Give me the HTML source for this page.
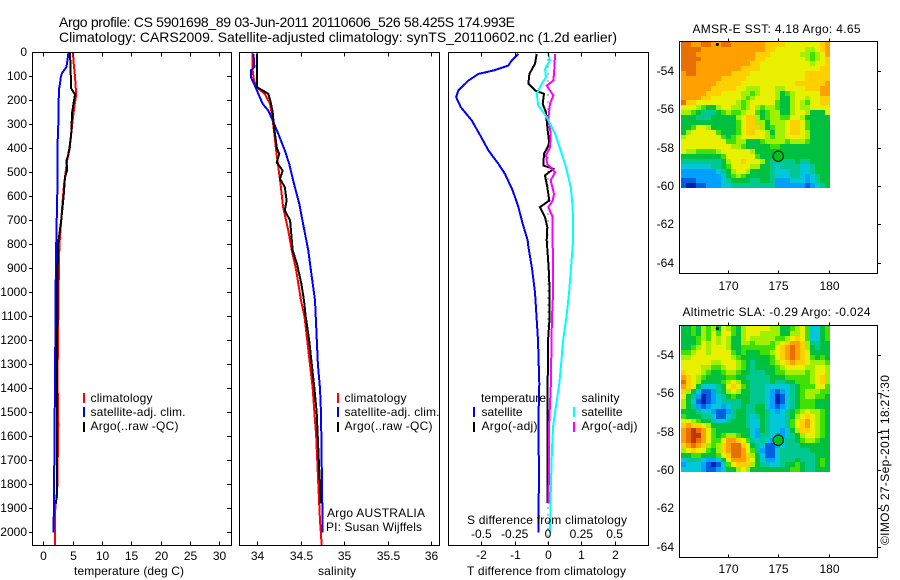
<!DOCTYPE html>
<html lang="en">
<head>
<meta charset="utf-8">
<title>Argo profile 5901698_89</title>
<style>
html,body{margin:0;padding:0;background:#fff;width:900px;height:580px;overflow:hidden}
svg{display:block;position:absolute;left:0;top:0}
text{font-family:"Liberation Sans",Arial,sans-serif;font-size:12px;fill:#000}
.title{font-size:14px}
.frame{fill:none;stroke:#000;stroke-width:1;shape-rendering:crispEdges}
.tick{stroke:#000;stroke-width:1;shape-rendering:crispEdges}
.series{fill:none;stroke-width:2;shape-rendering:crispEdges;stroke-linejoin:miter}
</style>
</head>
<body>
<svg id="chart" xmlns="http://www.w3.org/2000/svg" width="900" height="580" viewBox="0 0 900 580">
  <defs>
    <clipPath id="clip-temp"><rect x="33" y="53" width="198" height="492"/></clipPath>
    <clipPath id="clip-sal"><rect x="240" y="53" width="199" height="492"/></clipPath>
    <clipPath id="clip-diff"><rect x="449" y="53" width="199" height="492"/></clipPath>
  </defs>

  <text class="title" x="59" y="27" textLength="456" lengthAdjust="spacing">Argo profile: CS 5901698_89 03-Jun-2011 20110606_526 58.425S 174.993E</text>
  <text class="title" x="59" y="42" textLength="558" lengthAdjust="spacing">Climatology: CARS2009. Satellite-adjusted climatology: synTS_20110602.nc (1.2d earlier)</text>

  <g id="heat-sst"></g>
  <g id="heat-sla"></g>

  <g id="series-temp" clip-path="url(#clip-temp)"></g>
  <g id="series-sal" clip-path="url(#clip-sal)"></g>
  <g id="series-diff" clip-path="url(#clip-diff)"></g>

  <rect class="frame" x="32.5" y="52.5" width="199" height="493"/>
  <rect class="frame" x="239.5" y="52.5" width="200" height="493"/>
  <rect class="frame" x="448.5" y="52.5" width="200" height="493"/>
  <rect class="frame" x="679.5" y="41.5" width="198" height="232"/>
  <rect class="frame" x="679.5" y="325.5" width="198" height="232"/>

  <g id="axes"></g>

  <text x="74" y="575" textLength="110" lengthAdjust="spacing">temperature (deg C)</text>
  <text x="318" y="575" textLength="38" lengthAdjust="spacing">salinity</text>
  <text x="467" y="575" textLength="159" lengthAdjust="spacing">T difference from climatology</text>
  <text x="467" y="524" textLength="160" lengthAdjust="spacing">S difference from climatology</text>

  <g>
    <rect x="83" y="393" width="2" height="10" fill="#f00"/>
    <rect x="83" y="407" width="2" height="10" fill="#00f"/>
    <rect x="83" y="422" width="2" height="10" fill="#000"/>
    <text x="90.5" y="402" textLength="62" lengthAdjust="spacing">climatology</text>
    <text x="90.5" y="416" textLength="95" lengthAdjust="spacing">satellite-adj. clim.</text>
    <text x="90.5" y="430" textLength="88" lengthAdjust="spacing">Argo(..raw -QC)</text>
  </g>
  <g>
    <rect x="337" y="393" width="2" height="10" fill="#f00"/>
    <rect x="337" y="407" width="2" height="10" fill="#00f"/>
    <rect x="337" y="422" width="2" height="10" fill="#000"/>
    <text x="344.5" y="402" textLength="62" lengthAdjust="spacing">climatology</text>
    <text x="344.5" y="416" textLength="95" lengthAdjust="spacing">satellite-adj. clim.</text>
    <text x="344.5" y="430" textLength="88" lengthAdjust="spacing">Argo(..raw -QC)</text>
  </g>
  <text x="327" y="517" textLength="98" lengthAdjust="spacing">Argo AUSTRALIA</text>
  <text x="326" y="531" textLength="96" lengthAdjust="spacing">PI: Susan Wijffels</text>

  <g>
    <text x="481" y="402" textLength="65" lengthAdjust="spacing">temperature</text>
    <rect x="473" y="407" width="2" height="10" fill="#00f"/>
    <rect x="473" y="422" width="2" height="10" fill="#000"/>
    <text x="481.5" y="416" textLength="41" lengthAdjust="spacing">satellite</text>
    <text x="481.5" y="430" textLength="56" lengthAdjust="spacing">Argo(-adj)</text>
    <text x="581.5" y="402" textLength="38" lengthAdjust="spacing">salinity</text>
    <rect x="573" y="407" width="2" height="10" fill="#0ff"/>
    <rect x="573" y="422" width="2" height="10" fill="#f0f"/>
    <text x="581.5" y="416" textLength="41" lengthAdjust="spacing">satellite</text>
    <text x="581.5" y="430" textLength="56" lengthAdjust="spacing">Argo(-adj)</text>
  </g>

  <text x="692.5" y="33" textLength="168" lengthAdjust="spacing">AMSR-E SST: 4.18 Argo: 4.65</text>
  <text x="682.5" y="316" textLength="188" lengthAdjust="spacing">Altimetric SLA: -0.29 Argo: -0.024</text>

  <text transform="translate(889,545) rotate(-90)" textLength="170" lengthAdjust="spacing">©IMOS 27-Sep-2011 18:27:30</text>
</svg>

<script>
// ---- Profile depth grids and values (depth in m) ----
const tempClimDepth = [0,50,100,175,225,280,340,400,450,500,550,600,700,800,900,1000,1100,1200,1300,1400,1500,1550,1850,1880,2054];
const tempClimValue = [5.05,5.2,5.4,5.6,5.3,5.0,4.75,4.5,4.05,3.8,3.55,3.35,3.05,2.75,2.65,2.6,2.55,2.5,2.45,2.45,2.5,2.55,2.35,2.05,2.0];
const tempSatDepth = [0,60,85,100,130,155,300,400,570,600,800,1000,1400,1500,1750,2000];
const tempSatValue = [4.3,3.95,3.2,3.0,2.85,2.65,2.55,2.4,2.4,2.37,2.2,2.1,2.0,1.95,1.85,1.75];
const tempArgoDepth = [0,150,175,250,340,400,430,450,490,520,600,700,800,1000,1400,1700,1830,1880];
const tempArgoValue = [4.55,4.75,5.4,4.9,4.75,4.45,4.2,3.95,4.05,3.7,3.45,3.05,2.5,2.4,2.33,2.33,2.33,2.15];

const salClimDepth = [0,75,117,151,172,214,269,339,408,464,547,644,742,825,908,1033,1100,1400,1500,1600,1800,1950,2054];
const salClimValue = [33.95,33.95,33.965,34.015,34.09,34.15,34.176,34.2,34.22,34.24,34.27,34.3,34.36,34.4,34.45,34.506,34.546,34.64,34.66,34.68,34.705,34.724,34.744];
const salSatDepth = [6,61,75,103,130,172,214,242,283,339,408,464,547,631,714,825,908,1033,1300,1400,1500,1800,2000];
const salSatValue = [33.96,33.97,33.93,33.93,33.966,34.015,34.065,34.13,34.18,34.245,34.32,34.37,34.425,34.486,34.53,34.59,34.62,34.667,34.7,34.724,34.736,34.747,34.755];
const salArgoDepth = [5,144,172,207,249,311,401,422,457,492,526,561,617,658,700,825,881,964,1033,1100,1200,1300,1400,1500,1700,1800,1880];
const salArgoValue = [34.0,34.0,34.13,34.157,34.18,34.195,34.23,34.256,34.226,34.295,34.264,34.32,34.34,34.32,34.38,34.41,34.46,34.51,34.54,34.56,34.6,34.63,34.66,34.686,34.71,34.724,34.73];

const diffTSatDepth = [6,33,54,75,89,117,158,186,228,283,339,408,464,506,575,644,714,783,800,900,1000,1100,1200,1380,1550,1750,2000];
const diffTSatValue = [-0.89,-1.09,-1.19,-1.64,-2.09,-2.39,-2.69,-2.76,-2.62,-2.29,-2.06,-1.79,-1.49,-1.29,-1.06,-0.89,-0.76,-0.61,-0.6,-0.48,-0.39,-0.345,-0.3,-0.26,-0.29,-0.27,-0.29];
const diffTArgoDepth = [6,47,89,130,158,172,214,249,311,381,422,471,485,512,561,617,644,686,728,783,900,1000,1100,1200,1380,1850,1878];
const diffTArgoValue = [-0.34,-0.39,-0.56,-0.59,-0.39,-0.12,-0.16,-0.06,-0.02,0.04,-0.12,-0.14,0.16,-0.09,-0.02,0.04,-0.24,-0.09,-0.02,-0.04,0.02,0.05,0.05,0.0,-0.01,-0.01,-0.01];
const diffSArgoDepth = [6,89,117,138,179,214,276,339,394,429,464,499,533,589,617,644,686,783,1000,1100,1200,1380,1550,1700,1880];
const diffSArgoValue = [0.053,0.045,0.04,-0.01,0.04,0.015,0.002,0.02,0.015,-0.015,-0.005,0.053,0.02,0.045,0.035,0.002,0.035,0.035,0.038,0.03,0.026,0.022,0.008,0.008,0.004];
const diffSSatDepth = [6,33,68,103,130,172,221,269,339,408,478,561,644,783,1000,1100,1200,1300,1380,1550,1650,1800,2000];
const diffSSatValue = [0.002,0.015,-0.022,-0.015,-0.047,-0.085,-0.073,-0.01,0.053,0.095,0.135,0.17,0.185,0.188,0.158,0.139,0.113,0.098,0.085,0.04,0.03,0.022,0.015];

// ---- Tick labels ----
const depthTicks = [0,100,200,300,400,500,600,700,800,900,1000,1100,1200,1300,1400,1500,1600,1700,1800,1900,2000];
const tempTicks = [0,5,10,15,20,25,30];
const salTicks = [34,34.5,35,35.5,36];
const diffTTicks = [-2,-1,0,1,2];
const diffSTicks = [-0.5,-0.25,0,0.25,0.5];
const latTicks = [-54,-56,-58,-60,-62,-64];
const lonTicks = [170,175,180];

// ---- Argo position ----
const argoLon = 174.993;
const argoLat = -58.425;

// ---- Map grids: colour level per cell, north to south, west to east ----
const sstGrid = [
[11,11,10,10,11,11,10,10,11,11,10,10,10,10,10,10,10,9,9,9,9,8,8,8,8,8,8,8,9,10],
[11,11,11,11,10,10,10,10,10,10,10,10,10,10,10,10,10,9,9,8,8,8,8,8,8,7,7,8,9,10],
[11,11,11,10,10,10,10,10,10,10,10,10,10,10,10,9,9,9,8,8,8,8,8,8,7,7,6,7,8,10],
[11,11,11,11,10,10,10,10,10,10,10,10,10,10,10,9,9,8,8,8,8,8,8,8,8,7,6,7,8,9],
[11,11,11,10,10,10,10,10,10,10,10,10,10,10,9,9,8,8,8,8,8,8,8,8,8,8,7,8,8,9],
[11,11,11,10,10,10,10,10,10,10,10,10,9,9,9,9,8,8,8,8,8,8,8,8,8,8,8,8,9,9],
[10,11,11,10,10,10,10,10,10,10,9,9,9,9,8,8,8,8,8,8,8,8,8,8,8,9,9,9,9,9],
[10,10,10,10,10,10,10,10,9,9,9,9,9,8,8,8,8,8,8,8,8,8,8,8,8,9,9,9,9,9],
[10,10,10,10,10,10,10,9,9,9,9,9,8,8,8,8,8,8,8,8,8,8,8,9,9,9,9,9,9,10],
[10,10,10,10,10,10,9,9,9,9,9,8,8,7,7,7,8,8,8,7,7,8,8,8,8,9,9,9,10,10],
[10,10,10,10,10,9,9,9,8,8,8,8,7,7,6,7,8,8,8,7,5,6,7,8,8,8,8,8,10,10],
[10,10,10,10,9,9,8,8,8,8,8,8,7,6,7,8,8,8,8,7,5,5,7,8,8,7,8,8,9,9],
[11,9,9,8,8,8,8,8,8,8,8,7,6,7,8,8,8,8,8,6,5,5,7,8,7,6,8,8,9,9],
[8,8,8,7,6,5,5,7,8,8,7,7,6,7,8,7,6,7,7,6,5,5,7,8,7,7,8,8,8,8],
[7,7,6,5,4,4,4,5,6,7,6,6,7,8,8,6,5,6,7,7,5,5,7,8,8,7,5,5,5,8],
[5,5,5,4,4,4,5,5,5,5,5,7,8,9,9,7,5,6,7,7,6,6,8,8,7,5,5,5,5,5],
[5,5,5,5,5,5,5,5,5,5,5,6,8,9,9,7,7,5,7,7,7,8,9,9,8,6,5,5,5,5],
[5,5,6,8,8,7,5,5,5,5,5,6,8,9,9,9,7,5,6,7,7,8,9,9,8,6,5,5,5,5],
[5,7,8,8,8,8,8,6,5,5,5,6,8,9,9,8,8,7,5,7,7,8,9,9,8,7,5,5,5,5],
[7,8,8,8,8,8,8,8,6,5,6,7,8,8,8,8,8,7,6,7,7,8,8,8,8,7,5,5,5,5],
[8,8,8,8,8,8,8,8,8,6,6,7,7,5,5,5,6,7,7,7,7,6,7,7,7,6,5,5,5,5],
[8,8,8,8,8,8,8,8,8,8,7,7,6,5,5,5,5,5,6,6,5,5,5,5,5,5,5,5,5,5],
[8,7,7,6,6,6,6,7,8,8,8,8,8,8,7,5,5,5,5,5,5,5,5,5,5,5,5,5,5,5],
[5,5,5,5,5,5,5,5,6,8,8,8,8,8,8,6,5,5,5,5,5,5,5,5,5,5,5,5,5,5],
[4,4,4,4,4,4,4,4,5,7,8,8,9,8,8,8,7,5,4,4,4,4,4,5,4,4,5,5,5,5],
[3,3,3,3,3,3,4,4,5,6,8,8,8,8,7,7,5,5,4,3,4,4,4,4,3,3,4,5,5,5],
[2,2,2,2,2,2,2,3,4,5,7,8,8,7,5,5,5,5,4,3,3,3,4,4,3,3,4,5,5,5],
[2,2,2,2,2,2,2,2,3,5,6,7,6,5,5,5,5,5,4,3,3,3,4,4,3,2,3,4,5,5],
[1,1,1,2,2,2,2,2,3,4,5,5,5,5,4,4,5,5,4,2,2,2,3,3,3,2,3,4,5,5],
[1,0,0,1,1,2,2,2,3,3,4,4,4,4,4,4,4,4,4,2,2,2,2,2,2,1,2,3,4,5]
];
const slaGrid = [
[5,5,6,5,7,6,7,5,8,7,6,5,7,8,8,8,8,8,7,7,5,5,6,7,8,6,3,3,5,6],
[5,5,6,5,7,6,8,6,8,8,6,5,7,8,8,8,7,7,7,7,5,5,7,7,8,6,3,3,5,6],
[5,5,5,6,7,6,8,7,8,7,5,5,7,8,7,7,7,7,7,6,6,7,8,9,8,6,3,3,5,6],
[5,5,5,6,8,7,8,7,8,7,5,5,7,7,6,7,7,7,6,7,8,9,10,10,9,7,4,4,5,5],
[5,5,6,7,8,7,8,8,8,7,5,5,6,6,6,6,6,6,6,8,9,10,11,10,9,7,5,4,5,5],
[6,6,7,8,8,7,8,8,8,8,6,5,6,5,5,5,6,6,7,8,9,10,11,10,9,8,5,5,5,5],
[7,7,8,8,8,8,8,8,8,8,7,6,5,5,5,5,5,5,6,8,9,10,11,10,9,8,6,5,6,5],
[8,8,8,8,8,8,7,7,8,8,8,7,6,5,4,5,5,5,6,7,8,9,10,9,9,8,7,7,7,6],
[8,8,8,8,7,7,6,6,7,8,8,7,6,5,4,5,5,5,5,6,7,8,8,8,8,7,7,8,8,7],
[9,8,8,8,7,6,5,5,6,7,7,6,5,5,4,4,4,5,5,6,6,7,7,7,7,6,7,8,8,7],
[10,9,8,7,6,5,5,5,5,6,6,5,5,4,4,4,4,4,5,5,5,6,6,6,6,6,7,8,9,7],
[11,9,8,7,5,5,5,5,6,7,8,7,5,5,4,4,4,4,5,4,4,5,5,6,6,6,7,8,9,7],
[10,9,8,5,3,3,3,4,5,8,9,8,6,5,4,4,4,3,3,3,3,3,4,5,6,6,6,8,8,6],
[9,7,5,3,1,1,2,4,5,7,8,7,5,5,4,4,4,3,2,1,2,3,4,5,6,7,7,7,6,6],
[8,5,4,2,0,1,2,3,4,5,6,5,5,5,4,4,4,3,2,0,1,3,4,5,6,7,7,6,6,5],
[7,5,3,1,0,1,2,3,4,4,4,4,5,5,4,4,4,3,2,0,1,3,4,5,6,6,6,5,5,5],
[7,5,4,2,1,2,3,3,2,3,4,4,5,4,4,5,5,3,2,1,2,3,4,5,6,6,6,5,5,5],
[5,5,5,4,3,3,2,1,1,2,4,5,5,4,4,5,5,4,3,2,3,4,5,6,7,8,7,7,6,5],
[6,5,5,5,4,4,3,1,1,3,4,5,5,4,3,4,5,4,3,3,3,4,5,7,8,9,8,7,6,5],
[8,8,7,6,5,5,4,3,3,4,5,5,5,4,3,3,5,4,3,3,3,4,6,8,9,10,8,7,6,5],
[9,10,9,9,8,7,5,5,5,5,5,5,5,4,3,3,5,4,3,3,3,4,6,8,9,10,8,7,6,5],
[10,11,12,11,10,8,6,5,5,5,5,5,5,5,3,2,5,4,3,3,2,3,5,7,9,9,8,7,6,5],
[10,11,12,12,10,8,6,5,6,7,7,6,5,5,3,2,4,4,3,2,2,3,4,5,7,8,8,7,6,5],
[10,11,12,11,10,8,6,6,8,10,10,9,8,6,4,3,4,3,2,2,3,4,4,5,6,7,7,6,5,5],
[9,10,11,10,9,7,6,7,9,10,11,11,9,8,5,4,3,1,1,2,3,4,4,4,5,5,5,5,5,5],
[7,8,9,8,8,6,5,7,9,10,11,11,10,8,6,4,2,1,1,3,4,4,4,4,4,4,5,5,5,5],
[5,5,6,6,5,5,5,6,8,9,11,11,10,9,7,5,3,1,1,3,4,4,4,4,4,4,4,5,5,5],
[3,4,4,4,3,2,2,3,5,8,10,10,10,9,8,5,3,2,2,3,4,4,4,5,4,4,4,5,6,5],
[2,3,3,3,2,1,0,1,3,6,8,9,9,9,7,5,4,4,3,3,4,5,5,6,5,4,4,5,6,5],
[3,3,3,3,2,1,1,2,3,5,5,7,8,7,5,5,5,5,5,5,5,5,6,6,5,4,4,5,5,5]
];

// ---- Axis functions ----
const depthY = d => 52.5 + d * 0.24;
const tempX = t => 43.3 + t * 5.87;
const salX = s => 257 + (s - 34) * 87;
const diffTX = t => 548 + t * 33.3;
const diffSX = s => 548 + s * 133.3;
const lonX = lon => 778.3 + (lon - 175) * 10.16;
const latYsst = lat => 71.3 + (-54 - lat) * 19.2;
const latYsla = lat => 355.3 + (-54 - lat) * 19.2;

const LON_W = 165.42, LON_E = 180.08, LAT_N = -52.47, LAT_S = -60.09;
const colourStops = ['#0020b0','#0060e0','#00a0ff','#00c8d8','#00c890','#00c040','#40e000','#a0f000','#e8f000','#ffd000','#ffa000','#e87000','#c03800'];

const SVGNS = 'http://www.w3.org/2000/svg';
const axes = document.getElementById('axes');

function rgb(hex){ return [1,3,5].map(i => parseInt(hex.substr(i,2),16)); }
function levelColour(v){
  const c = Math.max(0, Math.min(colourStops.length - 1, v));
  const i = Math.min(colourStops.length - 2, Math.floor(c));
  const f = c - i, a = rgb(colourStops[i]), b = rgb(colourStops[i+1]);
  return 'rgb(' + a.map((x,k) => Math.round(x + (b[k]-x)*f)).join(',') + ')';
}

function drawLine(parent, depths, values, xf, colour, width){
  const el = document.createElementNS(SVGNS,'polyline');
  
  
  el.setAttribute('class','series');
  el.setAttribute('stroke',colour);
  el.setAttribute('stroke-width',width);
  el.setAttribute('points', values.map((v,i) => xf(v).toFixed(1) + ',' + depthY(depths[i]).toFixed(1)).join(' '));
  parent.appendChild(el);
}
function tick(x1,y1,x2,y2){
  const el = document.createElementNS(SVGNS,'line');
  
  
  el.setAttribute('class','tick');
  el.setAttribute('x1',x1); el.setAttribute('y1',y1);
  el.setAttribute('x2',x2); el.setAttribute('y2',y2);
  axes.appendChild(el);
}
function label(x,y,str,anchor){
  const el = document.createElementNS(SVGNS,'text');
  
  
  el.setAttribute('x',x); el.setAttribute('y',y);
  el.setAttribute('text-anchor',anchor);
  el.textContent = str;
  axes.appendChild(el);
}
function drawHeat(id, grid, latY){
  const g = document.getElementById(id);
  const rows = grid.length, cols = grid[0].length;
  const dLon = (LON_E - LON_W) / cols, dLat = (LAT_N - LAT_S) / rows;
  grid.forEach((row,r) => row.forEach((v,c) => {
    const x0 = Math.round(lonX(LON_W + c*dLon)), x1 = Math.round(lonX(LON_W + (c+1)*dLon));
    const y0 = Math.round(latY(LAT_N - r*dLat)), y1 = Math.round(latY(LAT_N - (r+1)*dLat));
    const el = document.createElementNS(SVGNS,'rect');
    
    
    el.setAttribute('x',x0); el.setAttribute('y',y0);
    el.setAttribute('width',x1-x0); el.setAttribute('height',y1-y0);
    el.setAttribute('fill',levelColour(v));
    el.setAttribute('shape-rendering','crispEdges');
    g.appendChild(el);
  }));
  const m = document.createElementNS(SVGNS,'circle');
  
  
  m.setAttribute('cx',lonX(argoLon)); m.setAttribute('cy',latY(argoLat)); m.setAttribute('r',5.2);
  m.setAttribute('fill','#00c020'); m.setAttribute('stroke','#000'); m.setAttribute('stroke-width',1);
  g.appendChild(m);
  const c = document.createElementNS(SVGNS,'circle');
  
  
  c.setAttribute('cx',lonX(169)); c.setAttribute('cy',latY(-52.6)); c.setAttribute('r',1.6);
  c.setAttribute('fill','#000');
  g.appendChild(c);
}

// ---- Panels ----
const LINE_W = 2.6;
const tempG = document.getElementById('series-temp');
drawLine(tempG, tempClimDepth, tempClimValue, tempX, '#f00', LINE_W);
drawLine(tempG, tempSatDepth, tempSatValue, tempX, '#00f', LINE_W);
drawLine(tempG, tempArgoDepth, tempArgoValue, tempX, '#000', LINE_W);

const salG = document.getElementById('series-sal');
drawLine(salG, salClimDepth, salClimValue, salX, '#f00', LINE_W);
drawLine(salG, salSatDepth, salSatValue, salX, '#00f', LINE_W);
drawLine(salG, salArgoDepth, salArgoValue, salX, '#000', LINE_W);

const diffG = document.getElementById('series-diff');
const zero = document.createElementNS(SVGNS,'line');


zero.setAttribute('x1',diffTX(0)); zero.setAttribute('x2',diffTX(0));
zero.setAttribute('y1',depthY(0)); zero.setAttribute('y2',depthY(2054));
zero.setAttribute('stroke','#000'); zero.setAttribute('stroke-dasharray','1 6');
zero.setAttribute('shape-rendering','crispEdges');
diffG.appendChild(zero);
drawLine(diffG, diffTSatDepth, diffTSatValue, diffTX, '#00f', LINE_W);
drawLine(diffG, diffTArgoDepth, diffTArgoValue, diffTX, '#000', LINE_W);
drawLine(diffG, diffSArgoDepth, diffSArgoValue, diffSX, '#f0f', LINE_W);
drawLine(diffG, diffSSatDepth, diffSSatValue, diffSX, '#0ff', LINE_W);

drawHeat('heat-sst', sstGrid, latYsst);
drawHeat('heat-sla', slaGrid, latYsla);

// ---- Axes ----
depthTicks.forEach(d => {
  const y = Math.floor(depthY(d)) + 0.5;
  if (d > 0) tick(29, y, 32, y);
  if (d > 0) tick(227, y, 231, y);
  label(27, y + 3.5, String(d), 'end');
});
function xAxis(ticks, xf, labelY, top, bottom){
  ticks.forEach(t => {
    const x = Math.round(xf(t)) + 0.5;
    tick(x, top, x, top + 4);
    tick(x, bottom - 4, x, bottom);
    label(x, labelY, String(t), 'middle');
  });
}
xAxis(tempTicks, tempX, 560, 52.5, 545.5);
xAxis(salTicks, salX, 560, 52.5, 545.5);
xAxis(diffTTicks, diffTX, 559, 52.5, 545.5);
diffSTicks.forEach(s => label(diffSX(s), 538, String(s), 'middle'));

function mapAxes(latY, top, bottom, labelY){
  latTicks.forEach(l => {
    const y = Math.floor(latY(l)) + 0.5;
    tick(877.5, y, 881, y);
    label(674, y + 3.5, String(l), 'end');
  });
  lonTicks.forEach(l => {
    const x = Math.round(lonX(l)) + 0.5;
    tick(x, top - 3, x, top);
    tick(x, bottom - 3, x, bottom);
    label(x, labelY, String(l), 'middle');
  });
}
mapAxes(latYsst, 41.5, 273.5, 290);
mapAxes(latYsla, 325.5, 557.5, 573);
</script>
</body>
</html>
